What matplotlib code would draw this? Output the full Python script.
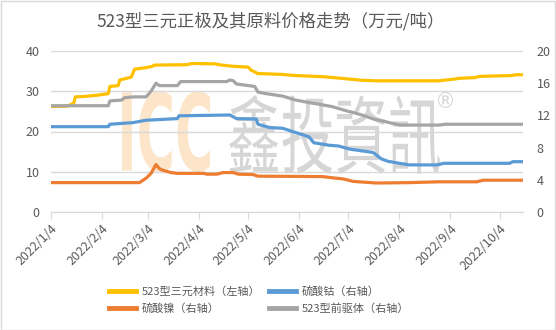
import matplotlib
matplotlib.use("Agg")
import matplotlib.pyplot as plt
import matplotlib.transforms as mtransforms
from matplotlib.textpath import TextPath
from matplotlib.patches import PathPatch, Rectangle
from matplotlib.font_manager import FontProperties
import pandas as pd

plt.rcParams['font.family'] = ['Noto Sans CJK SC', 'DejaVu Sans']

start = pd.Timestamp('2022-01-04')
end_day = 287

# series as (days since 2022/1/4, value)
ternary_days = [0, 10, 14, 15, 20, 28, 35, 36, 41, 42, 49, 51, 57, 62, 63, 83, 86, 100, 104,
                111, 120, 122, 126, 140, 149, 166, 177, 190, 198, 236, 245, 248, 258, 261, 280, 283, 287]
ternary = [26.2, 26.3, 27.0, 28.6, 28.7, 29.0, 29.4, 31.2, 31.4, 32.8, 33.5, 35.5, 35.8, 36.2, 36.5,
           36.6, 36.9, 36.8, 36.5, 36.2, 36.0, 35.2, 34.4, 34.2, 33.9, 33.6, 33.2, 32.7, 32.6, 32.6,
           33.0, 33.2, 33.4, 33.7, 33.9, 34.1, 34.1]

cobalt_days = [0, 35, 36, 50, 58, 77, 78, 109, 113, 125, 126, 133, 141, 147, 150, 157, 160, 169,
               175, 182, 196, 201, 205, 212, 218, 235, 239, 279, 281, 287]
cobalt = [10.6, 10.6, 10.9, 11.1, 11.4, 11.6, 11.95, 12.05, 11.6, 11.55, 10.9, 10.5, 10.4, 10.0,
          9.8, 9.35, 8.6, 8.3, 8.2, 7.8, 7.4, 6.6, 6.3, 6.05, 5.85, 5.85, 6.05, 6.05, 6.25, 6.25]

nickel_days = [0, 54, 58, 61, 64, 66, 68, 73, 77, 93, 95, 101, 105, 111, 114, 123, 126, 165, 178,
               184, 198, 218, 236, 259, 263, 287]
nickel = [3.65, 3.65, 4.2, 4.8, 5.9, 5.4, 5.2, 4.9, 4.8, 4.8, 4.7, 4.7, 4.9, 4.9, 4.7, 4.65, 4.45,
          4.4, 4.1, 3.8, 3.6, 3.65, 3.75, 3.75, 3.95, 3.95]

precursor_days = [0, 35, 36, 43, 45, 50, 58, 61, 64, 66, 77, 79, 107, 109, 111, 113, 124, 126, 131,
                  141, 149, 157, 160, 171, 181, 185, 190, 197, 204, 212, 236, 240, 287]
precursor = [13.2, 13.2, 13.8, 13.9, 14.2, 14.3, 14.3, 15.0, 16.0, 15.7, 15.7, 16.2, 16.2, 16.4,
             16.3, 15.9, 15.6, 14.9, 14.7, 14.4, 13.9, 13.6, 13.5, 13.1, 12.5, 12.3, 12.0, 11.5,
             11.2, 10.8, 10.8, 10.9, 10.9]

labels = ['523型三元材料（左轴）', '硫酸钴（右轴）', '硫酸镍（右轴）', '523型前驱体（右轴）']
colors = ['#FFC000', '#5B9BD5', '#ED7D31', '#A5A5A5']
month_ticks = pd.date_range(start, periods=10, freq=pd.DateOffset(months=1))


def to_dates(days):
    return start + pd.to_timedelta(days, unit='D')


W, H = 556, 330
fig = plt.figure(figsize=(W / 100, H / 100), dpi=100)
fig.add_artist(Rectangle((0.5 / W, 0.5 / H), 1 - 1.5 / W, 1 - 1.5 / H, transform=fig.transFigure,
                         fill=False, ec='#D9D9D9', lw=1))


def watermark(text, box, color, prop):
    # stretch a text outline into a pixel box (x0, y0, x1, y1 measured from top-left)
    tp = TextPath((0, 0), text, size=100, prop=prop)
    ext = tp.get_extents()
    x0, y0, x1, y1 = box
    tr = (mtransforms.Affine2D().translate(-ext.x0, -ext.y0)
          .scale((x1 - x0) / ext.width, (y1 - y0) / ext.height)
          .translate(x0, H - y1).scale(1 / 100) + fig.dpi_scale_trans)
    fig.add_artist(PathPatch(tp, transform=tr, fc=color, ec='none', zorder=0))


watermark('ICC', (122, 91, 210, 172), '#FCE5C8', FontProperties(family='Liberation Sans Narrow', weight='bold'))
watermark('鑫投資訊', (229, 95, 440, 174), '#D6D6D6', FontProperties(family='Noto Sans CJK TC'))
watermark('®', (438, 92, 453, 108), '#D6D6D6', FontProperties(family='DejaVu Sans'))

ax = fig.add_axes([50.7 / W, 1 - 212 / H, (522.7 - 50.7) / W, (212 - 51) / H])
ax.patch.set_alpha(0)
ax2 = ax.twinx()

l1, = ax.plot(to_dates(ternary_days), ternary, color=colors[0], lw=2.3, zorder=3)
l2, = ax2.plot(to_dates(cobalt_days), cobalt, color=colors[1], lw=2.3)
l3, = ax2.plot(to_dates(nickel_days), nickel, color=colors[2], lw=2.3)
l4, = ax2.plot(to_dates(precursor_days), precursor, color=colors[3], lw=2.3)

ax.set_xlim(start, start + pd.Timedelta(days=end_day))
ax.set_ylim(0, 40)
ax.set_yticks([0, 10, 20, 30, 40])
ax2.set_ylim(0, 20)
ax2.set_yticks([0, 4, 8, 12, 16, 20])
ax.grid(axis='y', color='#D9D9D9', lw=1)
ax.set_axisbelow(True)

ax.set_xticks(month_ticks)
ax.set_xticklabels([f'{d.year}/{d.month}/{d.day}' for d in month_ticks], rotation=45,
                   ha='right', va='top', rotation_mode='anchor')

for a in (ax, ax2):
    for s in a.spines.values():
        s.set_visible(False)
    a.tick_params(axis='y', length=0, labelsize=9, labelcolor='#595959')
ax.spines['bottom'].set_visible(True)
ax.spines['bottom'].set_color('#D9D9D9')
ax.tick_params(axis='x', length=5, color='#D9D9D9', labelsize=9, labelcolor='#595959', pad=2)
ax.tick_params(axis='y', pad=8)
ax2.tick_params(axis='y', pad=10)

fig.text(271 / W, 1 - 21 / H, '523型三元正极及其原料价格走势（万元/吨）', ha='center', va='center',
         fontsize=12.5, color='#595959')

fig.legend([l1, l3, l2, l4], [labels[0], labels[2], labels[1], labels[3]], ncol=2, frameon=False,
           loc='center', bbox_to_anchor=(259 / W, 1 - 300 / H), fontsize=8, labelcolor='#595959',
           handlelength=2.44, handletextpad=0.47, columnspacing=0.8, labelspacing=0.55)
for h in fig.legends[0].legend_handles:
    h.set_linewidth(3.5)

fig.savefig('out.png', dpi=100)
